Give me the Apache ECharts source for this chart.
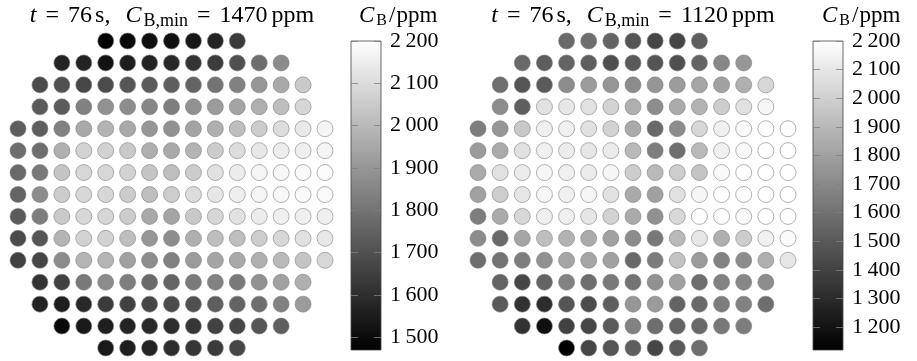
<!DOCTYPE html>
<html>
<head>
<meta charset="utf-8">
<script src="https://cdn.jsdelivr.net/npm/echarts@6/dist/echarts.min.js"></script>
<style>
html, body { margin: 0; padding: 0; background: #fff; }
#chart { width: 917px; height: 361px; }
</style>
</head>
<body>
<div id="chart"></div>
<script>
// first column of each row of the core map (15 x 15 grid, 193 positions)
const rowStart = [4, 2, 1, 1, 0, 0, 0, 0, 0, 0, 0, 1, 1, 2, 4];

// boron concentration per position, ppm, row by row (left map)
const leftRows = [
  [1480, 1495, 1510, 1515, 1540, 1570, 1640],
  [1570, 1570, 1525, 1555, 1570, 1585, 1615, 1640, 1700, 1785, 1870],
  [1685, 1700, 1670, 1685, 1715, 1730, 1740, 1755, 1800, 1840, 1900, 1955, 2045],
  [1730, 1730, 1840, 1885, 1870, 1855, 1830, 1885, 1915, 1940, 1970, 2015, 2085],
  [1740, 1740, 1840, 1955, 1985, 1955, 1900, 1885, 1940, 1970, 2015, 2055, 2100, 2135, 2170],
  [1785, 1785, 1970, 2070, 2070, 2045, 1970, 1955, 1985, 2055, 2100, 2130, 2145, 2155, 2170],
  [1770, 1815, 2030, 2085, 2085, 2070, 2030, 2015, 2055, 2115, 2145, 2170, 2180, 2185, 2190],
  [1755, 1870, 2055, 2085, 2085, 2055, 2015, 2055, 2100, 2130, 2155, 2170, 2180, 2185, 2185],
  [1730, 1830, 2045, 2085, 2085, 2055, 1955, 1940, 2045, 2085, 2115, 2145, 2155, 2155, 2155],
  [1685, 1715, 1985, 2070, 2070, 2015, 1900, 1870, 1970, 2015, 2015, 2055, 2085, 2115, 2130],
  [1655, 1670, 1870, 1985, 1985, 1930, 1870, 1840, 1915, 1940, 1955, 1970, 2000, 2030, 2085],
  [1615, 1655, 1815, 1870, 1830, 1770, 1755, 1815, 1840, 1815, 1885, 1930, 1970],
  [1570, 1555, 1585, 1640, 1655, 1670, 1685, 1700, 1740, 1755, 1785, 1840, 1915],
  [1500, 1540, 1555, 1570, 1585, 1600, 1625, 1655, 1670, 1715, 1740],
  [1540, 1555, 1570, 1600, 1625, 1640, 1670]
];

// right map
const rightRows = [
  [1565, 1585, 1545, 1480, 1415, 1415, 1520],
  [1565, 1520, 1545, 1520, 1460, 1500, 1480, 1460, 1545, 1690, 1755],
  [1585, 1480, 1500, 1715, 1775, 1755, 1715, 1755, 1775, 1820, 1800, 1860, 2030],
  [1715, 1520, 2075, 2095, 2075, 2010, 1860, 1715, 1840, 1880, 1990, 2075, 2160],
  [1650, 1755, 1965, 2135, 2135, 2075, 2010, 1840, 1565, 1715, 2030, 2135, 2180, 2200, 2200],
  [1775, 1840, 2075, 2135, 2115, 2095, 2115, 1905, 1650, 1585, 1905, 2135, 2180, 2200, 2200],
  [1840, 2075, 2115, 2160, 2135, 2115, 2160, 1990, 1905, 1990, 1945, 2180, 2200, 2200, 2200],
  [1800, 1990, 2095, 2160, 2135, 2160, 2075, 1840, 1800, 2075, 2160, 2200, 2200, 2200, 2200],
  [1650, 1840, 2030, 2135, 2135, 2095, 2010, 1840, 1735, 2030, 2200, 2200, 2180, 2200, 2200],
  [1715, 1565, 1820, 1925, 1880, 1840, 1800, 1715, 1630, 1905, 2095, 1860, 1990, 2135, 2180],
  [1585, 1605, 1650, 1735, 1820, 1820, 1800, 1565, 1650, 1945, 1775, 1670, 1715, 1860, 2095],
  [1545, 1415, 1545, 1670, 1585, 1630, 1605, 1735, 1800, 1585, 1670, 1690, 1715],
  [1500, 1330, 1310, 1480, 1440, 1520, 1755, 1775, 1545, 1565, 1650, 1670, 1585],
  [1330, 1185, 1395, 1415, 1500, 1670, 1585, 1545, 1565, 1630, 1650],
  [1120, 1415, 1480, 1520, 1415, 1500, 1585]
];

const timeS = 76;
const leftMin = 1470;
const rightMin = 1120;
const maxVal = 2200;
const leftTicks = [1500, 1600, 1700, 1800, 1900, 2000, 2100, 2200];
const rightTicks = [1200, 1300, 1400, 1500, 1600, 1700, 1800, 1900, 2000, 2100, 2200];

const FONT = 'Liberation Serif';

function toPoints(rows) {
  const pts = [];
  rows.forEach((row, r) => {
    row.forEach((v, i) => pts.push([rowStart[r] + i, r, v]));
  });
  return pts;
}

function fmt(v) {
  return String(v).replace(/(\d)(\d{3})$/, '$1\u2009$2');
}

function richSet(size, subSize) {
  const base = { fontFamily: FONT, fontSize: size, fontWeight: 'normal', color: '#000' };
  return {
    n: base,
    i: Object.assign({}, base, { fontStyle: 'italic' }),
    eq: Object.assign({}, base, { padding: [0, 9, 0, 9] }),
    s: Object.assign({}, base, { padding: [0, 15, 0, 3] }),
    u: Object.assign({}, base, { padding: [0, 0, 0, 4] }),
    sl: Object.assign({}, base, { padding: [0, 1, 0, 2] }),
    sub: Object.assign({}, base, { fontSize: subSize, padding: [11, 0, 0, 2] })
  };
}

const rich = richSet(24, 18);
const cbRich = richSet(23, 16);

function titleText(min) {
  return '{i|t}{eq|=}{n|' + timeS + '}{s|s,}{i|C}{sub|B,min}{eq|=}{n|' + min + '}{u|ppm}';
}

function mapAxes(gridIndex) {
  return {
    x: { gridIndex, type: 'value', min: 0, max: 14, show: false },
    y: { gridIndex, type: 'value', min: 0, max: 14, inverse: true, show: false }
  };
}

function cbAxes(gridIndex, min, ticks) {
  const tick = { show: true, inside: true, length: 7, customValues: ticks,
    lineStyle: { color: 'rgba(128,128,128,0.8)', width: 1 } };
  return [
    { gridIndex, type: 'value', min, max: maxVal, position: 'left', z: 5,
      axisLine: { show: false }, axisTick: tick, axisLabel: { show: false }, splitLine: { show: false } },
    { gridIndex, type: 'value', min, max: maxVal, position: 'right', z: 5,
      axisLine: { show: false }, axisTick: tick, splitLine: { show: false },
      axisLabel: { show: true, customValues: ticks, margin: 9, fontFamily: FONT, fontSize: 22,
        color: '#000', formatter: fmt } }
  ];
}

function colorbarRender(params, api) {
  const p0 = api.coord([0, api.value(2)]);
  const p1 = api.coord([1, api.value(1)]);
  return {
    type: 'rect',
    shape: { x: p0[0], y: p0[1], width: p1[0] - p0[0], height: p1[1] - p0[1] },
    style: {
      fill: new echarts.graphic.LinearGradient(0, 0, 0, 1, [
        { offset: 0, color: '#ffffff' }, { offset: 1, color: '#000000' }
      ]),
      stroke: '#444', lineWidth: 0.8
    }
  };
}

const mapL = mapAxes(0), mapR = mapAxes(2);
const cbL = cbAxes(1, leftMin, leftTicks), cbR = cbAxes(3, rightMin, rightTicks);

const dotStyle = { opacity: 1, borderColor: 'rgba(128,128,128,0.6)', borderWidth: 1 };

const chart = echarts.init(document.getElementById('chart'), null, { renderer: 'canvas' });
chart.setOption({
  animation: false,
  backgroundColor: '#fff',
  title: [
    { text: titleText(leftMin), left: 172, top: 1, padding: 0, textAlign: 'center', textStyle: { rich } },
    { text: titleText(rightMin), left: 633, top: 1, padding: 0, textAlign: 'center', textStyle: { rich } },
    { text: '{i|C}{sub|B}{sl|/}{n|ppm}', left: 359, top: 2, padding: 0, textStyle: { rich: cbRich } },
    { text: '{i|C}{sub|B}{sl|/}{n|ppm}', left: 822, top: 2, padding: 0, textStyle: { rich: cbRich } }
  ],
  grid: [
    { left: 18, top: 41, width: 307, height: 307 },
    { left: 351, top: 41, width: 30, height: 309 },
    { left: 478, top: 41, width: 310, height: 307 },
    { left: 813, top: 41, width: 30, height: 309 }
  ],
  xAxis: [
    mapL.x,
    { gridIndex: 1, type: 'value', min: 0, max: 1, show: false },
    mapR.x,
    { gridIndex: 3, type: 'value', min: 0, max: 1, show: false }
  ],
  yAxis: [mapL.y, cbL[0], cbL[1], mapR.y, cbR[0], cbR[1]],
  visualMap: [
    { show: false, type: 'continuous', seriesIndex: 0, dimension: 2, min: leftMin, max: maxVal,
      inRange: { color: ['#000000', '#ffffff'] } },
    { show: false, type: 'continuous', seriesIndex: 2, dimension: 2, min: rightMin, max: maxVal,
      inRange: { color: ['#000000', '#ffffff'] } }
  ],
  series: [
    { type: 'scatter', xAxisIndex: 0, yAxisIndex: 0, symbol: 'circle', symbolSize: 16,
      itemStyle: dotStyle, data: toPoints(leftRows) },
    { type: 'custom', xAxisIndex: 1, yAxisIndex: 1, z: 1, renderItem: colorbarRender,
      data: [[0, leftMin, maxVal]] },
    { type: 'scatter', xAxisIndex: 2, yAxisIndex: 3, symbol: 'circle', symbolSize: 16,
      itemStyle: dotStyle, data: toPoints(rightRows) },
    { type: 'custom', xAxisIndex: 3, yAxisIndex: 4, z: 1, renderItem: colorbarRender,
      data: [[0, rightMin, maxVal]] }
  ]
});
</script>
</body>
</html>
